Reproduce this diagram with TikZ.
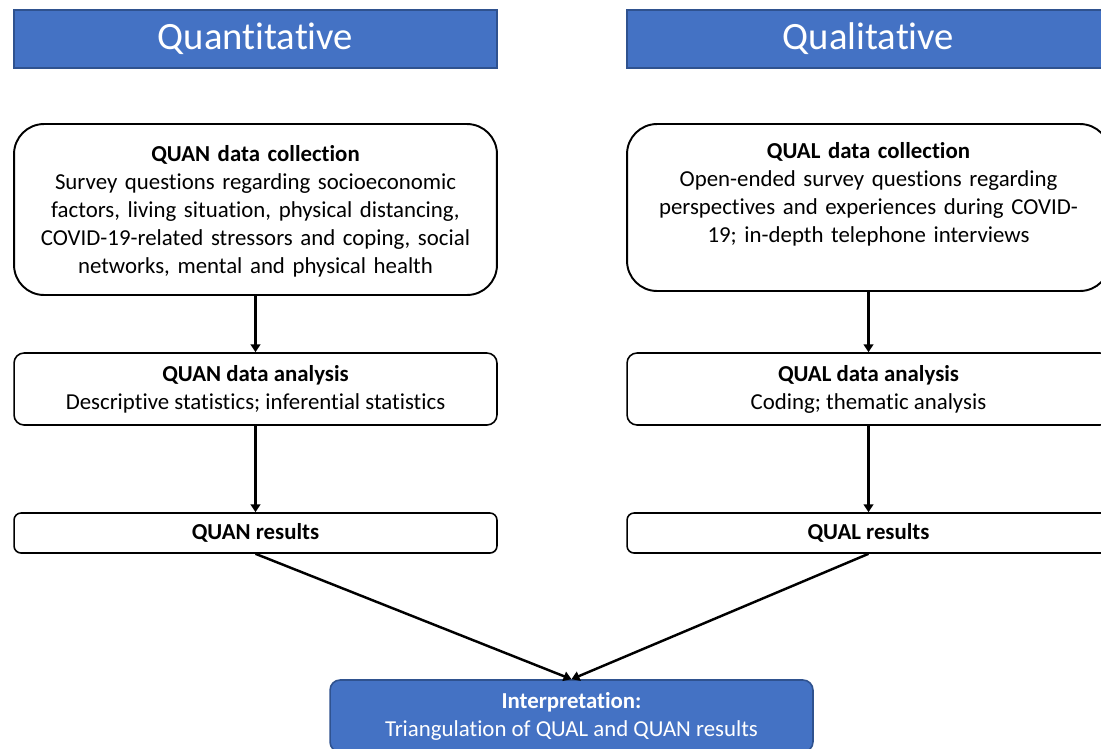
\documentclass[tikz,border=0pt]{standalone}
\usepackage{fontspec}
\setmainfont{Carlito}[Ligatures={NoCommon}]
\definecolor{headblue}{HTML}{4472C4}
\definecolor{headedge}{HTML}{2F528F}
\usetikzlibrary{arrows.meta, positioning}

\tikzset{
  header/.style={draw=headedge, fill=headblue, text=white, line width=0.7pt, minimum width=9.66cm, minimum height=1.16cm, font=\fontsize{22}{26}\selectfont},
  collbox/.style={draw, line width=1.1pt, rounded corners=0.6cm, minimum width=9.66cm},
  bodytext/.style={align=center, text width=9.6cm, inner sep=0pt, font=\fontsize{13}{15.9}\selectfont},
  stepbox/.style={draw, line width=0.9pt, rounded corners=0.2cm, minimum width=9.66cm, minimum height=1.44cm, align=center, font=\fontsize{13}{15.9}\selectfont},
  resbox/.style={draw, line width=0.9pt, rounded corners=0.14cm, minimum width=9.66cm, minimum height=0.8cm, font=\bfseries\fontsize{13}{15.9}\selectfont},
  flow/.style={-{Triangle[length=4.5pt, width=5.5pt]}, line width=1.4pt}
}

\begin{document}
\begin{tikzpicture}[x=0.02cm, y=-0.02cm]
  \useasboundingbox (0,0) rectangle (1101,748);

  % Headers
  \node[header] (quanhead) at (255.5, 39) {Quantitative};
  \node[header] (qualhead) at (868.5, 39) {Qualitative};

  % Data collection
  \node[collbox, minimum height=3.42cm] (quancoll) at (255.5, 209.5) {};
  \node[bodytext] (quancolltext) at (255.5, 211) {\textbf{QUAN data collection}\\
    Survey questions regarding socioeconomic\\
    factors, living situation, physical distancing,\\
    COVID-19-related stressors and coping, social\\
    networks, mental and physical health};
  \node[collbox, minimum height=3.34cm] (qualcoll) at (868.5, 207.5) {};
  \node[bodytext] (qualcolltext) at (868.5, 194) {\textbf{QUAL data collection}\\
    Open-ended survey questions regarding\\
    perspectives and experiences during COVID-\\
    19; in-depth telephone interviews};

  % Data analysis
  \node[stepbox] (quanana) at (255.5, 389) {\textbf{QUAN data analysis}\\Descriptive statistics; inferential statistics};
  \node[stepbox] (qualana) at (868.5, 389) {\textbf{QUAL data analysis}\\Coding; thematic analysis};

  % Results
  \node[resbox] (quanres) at (255.5, 533) {QUAN results};
  \node[resbox] (qualres) at (868.5, 533) {QUAL results};

  % Interpretation
  \node[stepbox, draw=headedge, fill=headblue, text=white] (interp) at (571.5, 716) {\textbf{Interpretation:}\\Triangulation of QUAL and QUAN results};

  \draw[flow] (quancoll) -- (quanana);
  \draw[flow] (quanana) -- (quanres);
  \draw[flow] (qualcoll) -- (qualana);
  \draw[flow] (qualana) -- (qualres);
  \draw[flow] (quanres.south) -- (interp.north);
  \draw[flow] (qualres.south) -- (interp.north);
\end{tikzpicture}
\end{document}
